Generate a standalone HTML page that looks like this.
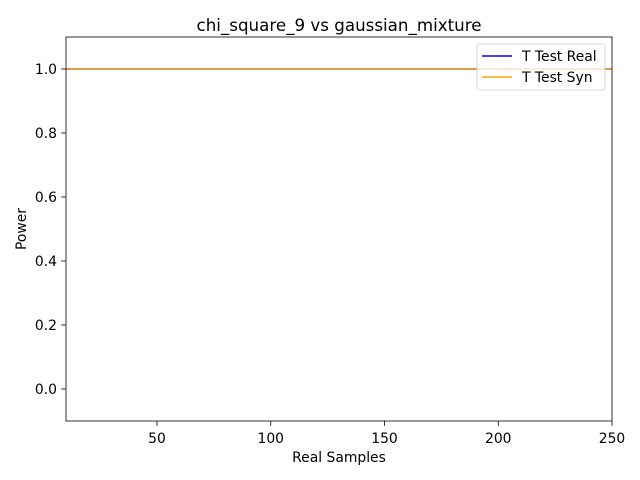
<!DOCTYPE html>
<html><head><meta charset="utf-8"><style>
html,body{margin:0;padding:0;background:#fff;}
svg{display:block;font-family:"DejaVu Sans","Liberation Sans",sans-serif;}
</style></head><body>
<svg id="chart" width="640" height="480"></svg>
<script>
const samples=[10,20,30,40,50,60,70,80,90,100,110,120,130,140,150,160,170,180,190,200,210,220,230,240,250];
const realPower=[1,1,1,1,1,1,1,1,1,1,1,1,1,1,1,1,1,1,1,1,1,1,1,1,1];
const synPower=[1,1,1,1,1,1,1,1,1,1,1,1,1,1,1,1,1,1,1,1,1,1,1,1,1];
const xTicks=[50,100,150,200,250];
const yTicks=[0.0,0.2,0.4,0.6,0.8,1.0];
const NS="http://www.w3.org/2000/svg";
const svg=document.getElementById('chart');
const L=66,R=612,T=37,B=421;
const xMin=10,xMax=250,yMin=-0.1,yMax=1.1;
const sx=v=>L+(v-xMin)/(xMax-xMin)*(R-L);
const sy=v=>B-(v-yMin)/(yMax-yMin)*(B-T);
function mk(tag,attrs,parent){const e=document.createElementNS(NS,tag);for(const k in attrs)e.setAttribute(k,attrs[k]);(parent||svg).appendChild(e);return e;}
function line(vals,color,name){
  const p=mk('polyline',{points:samples.map((x,i)=>sx(x)+','+sy(vals[i])).join(' '),fill:'none',stroke:color,'stroke-width':1.5});
  
  
}
line(realPower,'blue','t-test-real-line');
line(synPower,'orange','t-test-syn-line');
const frame=mk('rect',{x:L,y:T,width:R-L,height:B-T,fill:'none',stroke:'#000','stroke-width':0.8});


xTicks.forEach(t=>{
  mk('line',{x1:sx(t),x2:sx(t),y1:B,y2:B+4.9,stroke:'#000','stroke-width':0.8});
  const tx=mk('text',{x:sx(t),y:B+22,'text-anchor':'middle','font-size':13.9});
  tx.textContent=t;
  
  
});
yTicks.forEach(t=>{
  mk('line',{x1:L-4.9,x2:L,y1:sy(t),y2:sy(t),stroke:'#000','stroke-width':0.8});
  const tx=mk('text',{x:L-9,y:sy(t)+5,'text-anchor':'end','font-size':13.9});
  tx.textContent=t.toFixed(1);
  
  
});
const title=mk('text',{x:(L+R)/2,y:31,'text-anchor':'middle','font-size':16.7});
title.textContent='chi_square_9 vs gaussian_mixture';


const xl=mk('text',{x:(L+R)/2,y:462,'text-anchor':'middle','font-size':13.9});
xl.textContent='Real Samples';


const yl=mk('text',{x:0,y:0,'text-anchor':'middle','font-size':13.9,transform:'translate(26,'+((T+B)/2)+') rotate(-90)'});
yl.textContent='Power';


const lg=mk('g',{});


mk('rect',{x:477,y:44,width:128,height:46,rx:2,fill:'#fff','fill-opacity':0.8,stroke:'#ccc','stroke-width':0.8},lg);
[['T Test Real','blue',56],['T Test Syn','orange',77]].forEach(([lab,c,y])=>{
  mk('line',{x1:482,x2:512,y1:y,y2:y,stroke:c,'stroke-width':1.5},lg);
  const t=mk('text',{x:522,y:y+5,'font-size':13.9},lg);
  t.textContent=lab;
  
  
});
</script>
</body></html>
